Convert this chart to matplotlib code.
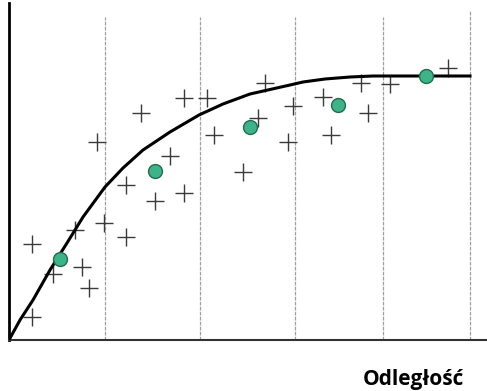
import numpy as np
import matplotlib.pyplot as plt

# pomiary (krzyżyki) - odległość / wartość
pomiary_x = [23, 23, 44, 66, 73, 80, 88, 95, 117, 117, 132, 146, 161, 175,
             175, 198, 205, 234, 249, 256, 279, 284, 314, 322, 352, 359, 381, 439]
pomiary_y = [96, 23, 66, 110, 73, 52, 198, 117, 155, 103, 227, 139, 184, 147,
             242, 242, 205, 168, 222, 257, 198, 234, 243, 205, 257, 227, 256, 272]

# średnie (zielone kółka)
srednie_x = [51, 146, 241, 329, 417]
srednie_y = [81, 169, 213, 235, 264]

# krzywa dopasowania
krzywa_x = [0, 11, 24, 41, 58, 74, 96, 114, 134, 161, 190, 214, 241, 281, 294,
            316, 341, 364, 374, 461]
krzywa_y = [0, 20, 40, 70, 97, 123, 153, 172, 190, 208, 225, 236, 246, 255, 258,
            261, 263, 264, 264, 264]

siatka_x = [96, 191, 286, 374, 461]
siatka_gora = [323, 323, 323, 323, 330]

fig = plt.figure(figsize=(4.87, 3.91), dpi=100)
ax = fig.add_axes([9 / 487, 51 / 391, 478 / 487, 337 / 391])

for gx, gt in zip(siatka_x, siatka_gora):
    ax.plot([gx, gx], [0, gt], color="#a0a0a0", lw=0.9, ls=(0, (3, 1)), zorder=1)

ax.plot(pomiary_x, pomiary_y, linestyle="none", marker="+", markersize=13,
        markeredgewidth=1.0, color="#3a3a3a", zorder=2)
ax.plot(krzywa_x, krzywa_y, color="black", lw=2.2, zorder=3)
ax.plot(srednie_x, srednie_y, linestyle="none", marker="o", markersize=10,
        markerfacecolor="#3cb389", markeredgecolor="#1f6e50", markeredgewidth=1.0,
        zorder=4)

ax.set_xlim(0, 478)
ax.set_ylim(0, 337)
ax.set_xticks([])
ax.set_yticks([])
for s in ["top", "right"]:
    ax.spines[s].set_visible(False)
ax.spines["left"].set_linewidth(2.0)
ax.spines["bottom"].set_linewidth(1.5)
ax.spines["bottom"].set_color("#333333")

fig.text(413 / 487, 1 - 379 / 391, "Odległość", ha="center", va="center",
         fontsize=15, fontweight="bold", family="Open Sans")

fig.savefig("out.png", dpi=100)
